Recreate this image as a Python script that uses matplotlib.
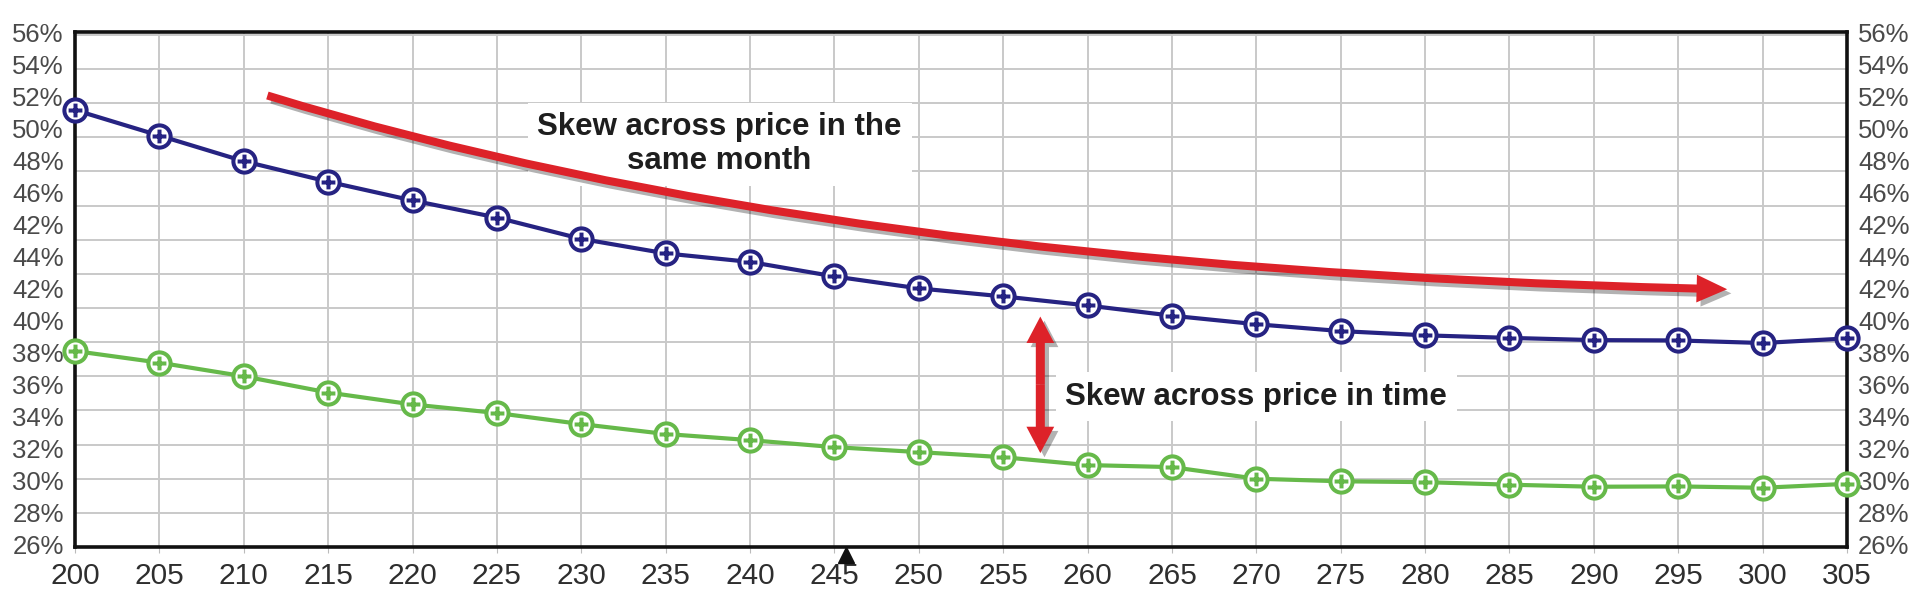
import matplotlib
matplotlib.use("Agg")
import matplotlib.pyplot as plt
import matplotlib.patheffects as pe
import numpy as np
from matplotlib.patches import FancyArrowPatch
from matplotlib.path import Path

plt.rcParams['font.family'] = ['Liberation Sans', 'DejaVu Sans']

# strike prices along the bottom
strikes = [200, 205, 210, 215, 220, 225, 230, 235, 240, 245, 250,
           255, 260, 265, 270, 275, 280, 285, 290, 295, 300, 305]

# implied vol (grid units, %)
near_month = [51.6, 50.1, 48.6, 47.4, 46.3, 45.3, 44.05, 43.2, 42.7, 41.85, 41.15,
              40.68, 40.15, 39.55, 39.05, 38.65, 38.4, 38.25, 38.12, 38.1, 37.95, 38.22]
far_month = [37.48, 36.8, 36.0, 35.05, 34.35, 33.85, 33.2, 32.62, 32.26, 31.85, 31.56,
             31.26, 30.8, 30.68, 30.0, 29.85, 29.8, 29.65, 29.53, 29.55, 29.47, 29.7]

# printed axis labels (as they appear, top to bottom)
y_labels = ['56%', '54%', '52%', '50%', '48%', '46%', '42%', '44%', '42%',
            '40%', '38%', '36%', '34%', '32%', '30%', '28%', '26%']

blue = '#262382'
green = '#66b94a'
red = '#dd2229'

fig = plt.figure(figsize=(19.2, 6.05), dpi=100)
ax = fig.add_axes([75 / 1920, 1 - 547 / 605, (1847 - 75) / 1920, (547 - 32) / 605])

ax.set_xlim(200, 305)
ax.set_ylim(26, 56)

# grid on the real 2% steps, labels spaced on their own
ax.set_xticks(strikes)
ax.set_xticklabels([str(s) for s in strikes])
ax.set_yticks(np.arange(26, 57, 2), minor=True)
ax.set_yticks(np.linspace(56.17, 26.12, len(y_labels)))
ax.set_yticklabels(y_labels)
ax.grid(which='minor', axis='y', color='#c9c9c9', lw=1.4)
ax.grid(which='major', axis='x', color='#c9c9c9', lw=1.4)
ax.set_axisbelow(True)

ax.tick_params(axis='y', which='both', length=0, pad=8, labelsize=18.5,
               labelcolor='#4a4a4a', right=False, labelright=True)
ax.tick_params(axis='x', length=4, color='#bbbbbb', pad=7, labelsize=21.5,
               labelcolor='#2e2e2e')
for s in ax.spines.values():
    s.set_linewidth(2.6)
    s.set_color('#111111')

# circle-with-cross marker
cross = Path([[-0.62, 0], [0.62, 0], [0, -0.62], [0, 0.62]],
             [Path.MOVETO, Path.LINETO, Path.MOVETO, Path.LINETO])
ring_cross = Path.make_compound_path(Path.unit_circle(), cross)

ax.plot(strikes, near_month, color=blue, lw=3, marker=ring_cross, ms=16,
        mfc='white', mec=blue, mew=2.9, clip_on=False, zorder=5)
ax.plot(strikes, far_month, color=green, lw=3, marker=ring_cross, ms=16,
        mfc='white', mec=green, mew=2.9, clip_on=False, zorder=5)

# little black pointer under 245
ax.plot([245.7], [-0.016], marker='^', ms=11, color='#111111',
        transform=ax.get_xaxis_transform(), clip_on=False)

shadow = [pe.withSimplePatchShadow(offset=(3, -3), shadow_rgbFace='k', alpha=0.3)]

# curved arrow: skew across price
curve = Path([(211.4, 52.45), (245.0, 42.2), (297.9, 41.1)],
             [Path.MOVETO, Path.CURVE3, Path.CURVE3])
arr = FancyArrowPatch(path=curve,
                      arrowstyle='simple,head_length=22,head_width=20,tail_width=5.8',
                      mutation_scale=1, color=red, lw=0, zorder=6,
                      path_effects=shadow)
ax.add_patch(arr)

# vertical double arrow: skew across time
mid_y = (31.5 + 39.5) / 2
for end_y in (39.5, 31.5):
    va = FancyArrowPatch((257.2, mid_y), (257.2, end_y),
                         arrowstyle='simple,head_length=19,head_width=20,tail_width=6.5',
                         mutation_scale=1, color=red, lw=0, shrinkA=0, shrinkB=0,
                         zorder=6, path_effects=shadow)
    ax.add_patch(va)

box = dict(facecolor='white', edgecolor='none', pad=7)
ax.text(238.2, 49.6, 'Skew across price in the\nsame month', ha='center',
        va='center', fontsize=22.5, fontweight='bold', color='#1e1e1e',
        bbox=box, zorder=4, linespacing=1.15)
ax.text(270.0, 34.8, 'Skew across price in time', ha='center', va='center',
        fontsize=22.5, fontweight='bold', color='#1e1e1e', bbox=box, zorder=4)

fig.savefig('out.png', dpi=100)
